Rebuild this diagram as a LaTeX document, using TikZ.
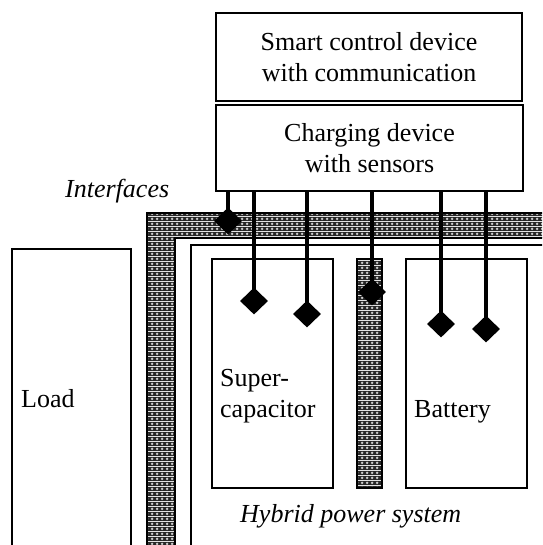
\documentclass[tikz,border=0pt]{standalone}
\usepackage{fontspec}
\setmainfont{Liberation Serif}
\usetikzlibrary{shapes.geometric,patterns.meta}

\tikzdeclarepattern{
  name=mesh,
  type=colored,
  bottom left={(0pt,0pt)},
  top right={(5pt,5pt)},
  tile size={(5pt,5pt)},
  code={
    \fill[black!85] (0pt,0pt) rectangle (5pt,5pt);
    \fill[white!80!black] (2.5pt,0.9pt) -- (4.1pt,2.5pt) -- (2.5pt,4.1pt) -- (0.9pt,2.5pt) -- cycle;
  }
}

\tikzset{
  box/.style={draw,line width=1.6pt,inner sep=0pt},
  cell/.style={draw,line width=1.3pt,inner sep=0pt},
  hatch/.style={draw,line width=1.6pt,pattern=mesh},
  pin/.style={line width=4.5pt},
  contact/.style={diamond,fill=black,inner sep=0pt,minimum width=28pt,minimum height=27pt},
  lbl/.style={inner sep=0pt,anchor=base west},
}

\begin{document}
\begin{tikzpicture}[x=1pt,y=-1pt,font=\fontsize{26}{31}\selectfont]
  \clip (0,0) rectangle (542,545);
  \fill[white] (0,0) rectangle (542,545);
  % control and charging unit
  \node[box,minimum width=306pt,minimum height=88pt,align=center] (smart) at (369,57)
    {Smart control device\\with communication};
  \node[box,minimum width=307pt,minimum height=86pt,align=center] (charging) at (369.5,148)
    {Charging device\\with sensors};
  % load
  \node[box,minimum width=119pt,minimum height=320pt] (load) at (71.5,409) {};
  \node[lbl] (loadtxt) at (21,407) {Load};
  % interface band
  \draw[hatch] (147,560) -- (147,213) -- (560,213) -- (560,238) -- (175,238) -- (175,560) -- cycle;
  \node[lbl,font=\fontsize{26}{31}\selectfont\itshape] (iface) at (65,197) {Interfaces};
  % hybrid power system
  \draw[line width=1.3pt] (191,560) |- (560,245);
  \node[cell,minimum width=121pt,minimum height=229pt] (scap) at (272.5,373.5) {};
  \node[cell,minimum width=121pt,minimum height=229pt] (batt) at (466.5,373.5) {};
  \node[hatch,minimum width=25pt,minimum height=229pt,inner sep=0pt] (sbar) at (369.5,373.5) {};
  \node[lbl,align=left] (scaptxt) at (220,417) {Super-\\capacitor};
  \node[lbl] (batttxt) at (414,417) {Battery};
  \node[lbl,font=\fontsize{26}{31}\selectfont\itshape] (hybrid) at (240,522) {Hybrid power system};
  % sensor contacts
  \node[contact] (d1) at (228,221) {};
  \node[contact] (d2) at (254,301) {};
  \node[contact] (d3) at (307,314) {};
  \node[contact] (d4) at (372,292) {};
  \node[contact] (d5) at (441,324) {};
  \node[contact] (d6) at (486,329) {};
  \foreach \d in {d1,d2,d3,d4,d5,d6}
    \draw[pin] (\d |- charging.south) -- (\d.center);
\end{tikzpicture}
\end{document}
